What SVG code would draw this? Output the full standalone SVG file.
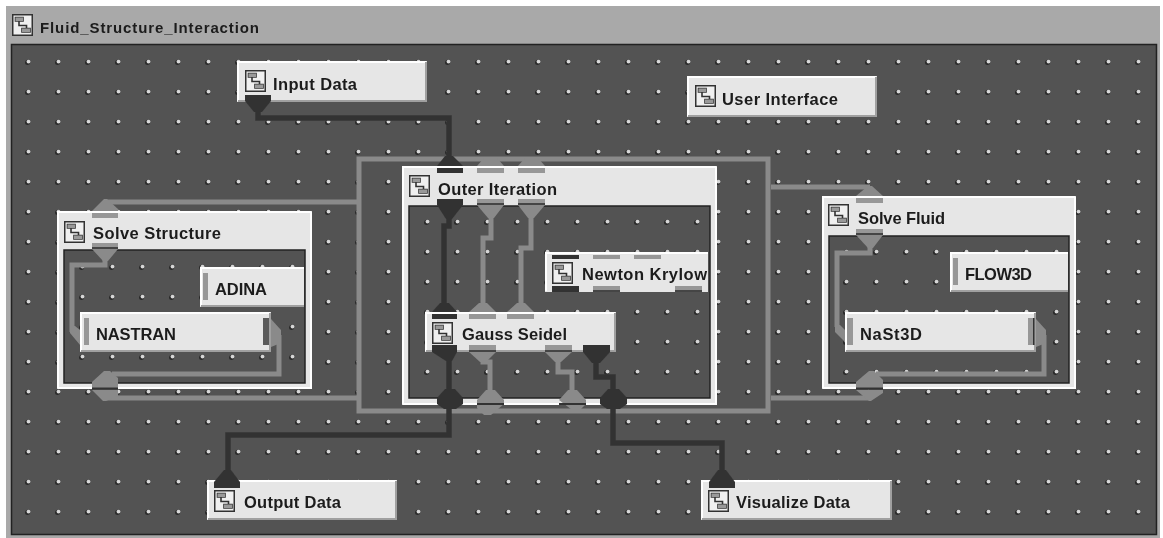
<svg xmlns="http://www.w3.org/2000/svg" width="1163" height="538" viewBox="0 0 1163 538">
<style>
text{font-family:"Liberation Sans",Arial,sans-serif;font-weight:700;font-size:16.500px;fill:#1c1c1c}
.title{font-size:15px}
.panel{stroke:#222;stroke-width:1.5}
.face{fill:#e6e6e6}
.hi{fill:none;stroke:#fff;stroke-width:2}
.lo{fill:none;stroke:#a0a0a0;stroke-width:2}
.g{fill:none;stroke:#8a8a8a;stroke-width:5}
.d{fill:none;stroke:#333;stroke-width:5.500}
.gf{fill:#8a8a8a}
.df{fill:#333}
.gb{fill:#979797}
.line{fill:#333}
</style>
<defs>
<filter id="soft" x="0" y="0" width="100%" height="100%"><feGaussianBlur stdDeviation="0.5"/></filter>
<symbol id="icon" viewBox="0 0 21 22" width="21" height="22">
<rect x="0.75" y="0.75" width="19.5" height="20.5" fill="#f0f0f0" stroke="#333" stroke-width="1.5"/>
<path d="M3.500 3.500H11V7H3.500ZM7 7V11.500H14.500V14.500M10 14.500H18V18H10Z" fill="#999" fill-opacity="0" stroke="#333" stroke-width="1.6"/>
<rect x="10" y="14.500" width="8" height="3.500" fill="#999"/>
<rect x="3.500" y="3.500" width="7.500" height="3.500" fill="#999"/>
</symbol>
<g id="dot"><circle cx="-0.5" cy="0.5" r="2.500" fill="#2a2a2a"/><circle cx="0.5" cy="-0.4" r="1.900" fill="#d6d6d6"/></g>
<pattern id="dMain" patternUnits="userSpaceOnUse" x="13" y="47" width="30" height="30"><use href="#dot" x="15" y="15"/></pattern>
<pattern id="dOuter" patternUnits="userSpaceOnUse" x="412" y="207" width="30" height="30"><use href="#dot" x="15" y="15"/></pattern>
<pattern id="dStruct" patternUnits="userSpaceOnUse" x="67" y="252" width="30" height="30"><use href="#dot" x="15" y="15"/></pattern>
<pattern id="dFluid" patternUnits="userSpaceOnUse" x="831" y="237" width="30" height="30"><use href="#dot" x="15" y="15"/></pattern>
</defs>
<g filter="url(#soft)">
<rect width="1163" height="538" fill="#fff"/>
<rect x="6" y="6" width="1154" height="532" fill="#a9a9a9"/>
<g id="title">
<use href="#icon" x="12" y="14"/>
<text class="title" x="40" y="33" textLength="219" lengthAdjust="spacing">Fluid_Structure_Interaction</text>
</g>
<rect x="11.500" y="44.500" width="1145" height="490" fill="#525252" class="panel"/>
<rect x="12" y="45" width="1144" height="489" fill="url(#dMain)"/>

<g id="input-data">
<rect x="237" y="61" width="190" height="41" class="face"/>
<path d="M238 101V62H426" class="hi"/><path d="M238 101H426V62" class="lo"/>
<use href="#icon" x="245" y="70"/>
<text x="273" y="90" textLength="84" lengthAdjust="spacing">Input Data</text>
</g>
<g id="user-interface">
<rect x="687" y="76" width="190" height="41" class="face"/>
<path d="M688 116V77H876" class="hi"/><path d="M688 116H876V77" class="lo"/>
<use href="#icon" x="695" y="85"/>
<text x="722" y="105" textLength="116" lengthAdjust="spacing">User Interface</text>
</g>
<g id="outer-iteration">
<rect x="402" y="166" width="315" height="239" class="face"/>
<path d="M403 404V167H716" class="hi"/><path d="M403 404H716V167" class="hi"/>
<rect x="409" y="206" width="301" height="192" fill="#525252" class="panel"/>
<rect x="410" y="207" width="299" height="190" fill="url(#dOuter)"/>
<use href="#icon" x="409" y="175"/>
<text x="438" y="195" textLength="119" lengthAdjust="spacing">Outer Iteration</text>
</g>
<g id="newton-krylow">
<rect x="545" y="252" width="163" height="40" class="face"/>
<path d="M546 291V253H708" class="hi"/>
<use href="#icon" x="552" y="262"/>
<text x="582" y="280" textLength="125" lengthAdjust="spacing">Newton Krylow</text>
</g>
<g id="gauss-seidel">
<rect x="425" y="312" width="191" height="40" class="face"/>
<path d="M426 351V313H615" class="hi"/><path d="M426 351H615V313" class="lo"/>
<use href="#icon" x="432" y="322"/>
<text x="462" y="340" textLength="105" lengthAdjust="spacing">Gauss Seidel</text>
</g>
<g id="solve-structure">
<rect x="57" y="211" width="255" height="178" class="face"/>
<path d="M58 388V212H311" class="hi"/><path d="M58 388H311V212" class="hi"/>
<rect x="64" y="250" width="241" height="133" fill="#525252" class="panel"/>
<rect x="65" y="251" width="239" height="131" fill="url(#dStruct)"/>
<use href="#icon" x="64" y="221"/>
<text x="93" y="239" textLength="128" lengthAdjust="spacing">Solve Structure</text>
</g>
<g id="adina">
<rect x="200" y="267" width="104" height="40" class="face"/>
<path d="M201 306V268H304" class="hi"/><path d="M201 306H304" class="lo"/>
<rect x="203" y="273" width="5" height="27" class="gb"/>
<text x="215" y="295" textLength="52" lengthAdjust="spacing">ADINA</text>
</g>
<g id="nastran">
<rect x="80" y="312" width="191" height="40" class="face"/>
<path d="M81 351V313H270" class="hi"/><path d="M81 351H270V313" class="lo"/>
<text x="96" y="340" textLength="80" lengthAdjust="spacing">NASTRAN</text>
</g>
<g id="solve-fluid">
<rect x="822" y="196" width="254" height="193" class="face"/>
<path d="M823 388V197H1075" class="hi"/><path d="M823 388H1075V197" class="hi"/>
<rect x="829" y="236" width="240" height="147" fill="#525252" class="panel"/>
<rect x="830" y="237" width="238" height="145" fill="url(#dFluid)"/>
<use href="#icon" x="828" y="204"/>
<text x="858" y="224" textLength="87" lengthAdjust="spacing">Solve Fluid</text>
</g>
<g id="flow3d">
<rect x="950" y="252" width="118" height="40" class="face"/>
<path d="M951 291V253H1068" class="hi"/><path d="M951 291H1068" class="lo"/>
<rect x="953" y="258" width="5" height="27" class="gb"/>
<text x="965" y="280" textLength="67" lengthAdjust="spacing">FLOW3D</text>
</g>
<g id="nast3d">
<rect x="845" y="312" width="191" height="40" class="face"/>
<path d="M846 351V313H1035" class="hi"/><path d="M846 351H1035V313" class="lo"/>
<text x="860" y="340" textLength="62" lengthAdjust="spacing">NaSt3D</text>
</g>
<g id="output-data">
<rect x="207" y="480" width="190" height="40" class="face"/>
<path d="M208 519V481H396" class="hi"/><path d="M208 519H396V481" class="lo"/>
<use href="#icon" x="214" y="490"/>
<text x="244" y="508" textLength="97" lengthAdjust="spacing">Output Data</text>
</g>
<g id="visualize-data">
<rect x="701" y="480" width="191" height="40" class="face"/>
<path d="M702 519V481H891" class="hi"/><path d="M702 519H891V481" class="lo"/>
<use href="#icon" x="708" y="490"/>
<text x="736" y="508" textLength="114" lengthAdjust="spacing">Visualize Data</text>
</g>

<g id="connectors">
<path class="g" d="M359 159H768V411H359Z"/>
<path class="g" d="M105 202H357M105 398H357M771 187H870M771 398H870"/>
<path class="d" d="M258 102V118H449V160"/>
<path class="d" d="M449 405V435H228V472"/>
<path class="d" d="M613 405V443H722V472"/>
<path class="d" d="M449 206V226H444V308"/>
<path class="g" d="M491 206V238H483V308"/>
<path class="g" d="M531 206V248H521V308"/>
<path class="d" d="M449 352V392"/>
<path class="g" d="M483 352V362H490V392"/>
<path class="g" d="M558 352V372H572V392"/>
<path class="d" d="M596 352V377H613V392"/>
<path class="g" d="M105 250V265H72V332"/>
<path class="g" d="M279 335V374H112"/>
<path class="g" d="M870 236V253H837V327"/>
<path class="g" d="M1044 335V374H876"/>

<path class="df" d="M245 101H271L262 112H254Z"/>
<path class="df" d="M437 166H463L453 156H445Z"/>
<path class="gf" d="M477 166H504L497 158H484Z"/>
<path class="gf" d="M518 166H545L538 158H525Z"/>
<path class="df" d="M437 205H463L452 219H446Z"/>
<path class="gf" d="M477 205H504L494 218H488Z"/>
<path class="gf" d="M518 205H545L534 218H528Z"/>
<path class="df" d="M432 312H457L449 303H440Z"/>
<path class="gf" d="M469 312H496L487 303H479Z"/>
<path class="gf" d="M507 312H534L525 303H517Z"/>
<path class="df" d="M432 352H457L452 361H446Z"/>
<path class="gf" d="M469 352H496L486 362H480Z"/>
<path class="gf" d="M545 352H572L561 362H555Z"/>
<path class="df" d="M583 352H610L600 363H592Z"/>
<path class="df" d="M437 398L445 389H455L463 398V404L456 409H444L437 404Z"/>
<path class="df" d="M600 398L608 389H619L627 398V404L620 409H607L600 404Z"/>
<path class="gf" d="M477 400L486 390H495L504 400V404L491 415H484L477 408Z"/>
<path class="gf" d="M559 400L568 390H577L586 400V404L580 410H572Z"/>
<path class="line" d="M477 403H504V405H477ZM559 403H586V405H559Z"/>
<path class="df" d="M214 482H240L231 470H224Z"/>
<path class="df" d="M709 482H735L726 470H718Z"/>

<path class="gf" d="M92 211L104 199H107L118 209V211Z"/>
<path class="gf" d="M92 249H118L108 261H103Z"/>
<path class="gf" d="M80 345L70 333V326H75L80 330Z"/>
<path class="gf" d="M271 319L281 330V343L271 347Z"/>
<path class="gf" d="M92 388V382L104 371H110L118 378V388Z"/>
<path class="gf" d="M92 390H118V396L106 401H103Z"/>
<path class="line" d="M92 387.500H118V389.500H92Z"/>

<path class="gf" d="M856 196L868 186H872L883 196Z"/>
<path class="gf" d="M856 235H883L873 248H868Z"/>
<path class="gf" d="M845 342L835 332V325H840L845 330Z"/>
<path class="gf" d="M1036 319L1046 330V343L1036 347Z"/>
<path class="gf" d="M856 388V382L869 371H874L883 380V388Z"/>
<path class="gf" d="M856 390H883V393L871 401H869Z"/>
<path class="line" d="M856 387.500H883V389.500H856Z"/>

<g class="df">
<rect x="245" y="95" width="26" height="6"/><rect x="437" y="168" width="26" height="5"/><rect x="437" y="199" width="26" height="6"/>
<rect x="552" y="255" width="27" height="4"/><rect x="552" y="286" width="27" height="6"/>
<rect x="432" y="314" width="25" height="5"/><rect x="432" y="345" width="25" height="7"/><rect x="583" y="345" width="27" height="7"/>
<rect x="214" y="482" width="26" height="6"/><rect x="709" y="482" width="26" height="6"/>
</g>
<g class="gb">
<rect x="477" y="168" width="27" height="5"/><rect x="518" y="168" width="27" height="5"/>
<rect x="477" y="199" width="27" height="6"/><rect x="518" y="199" width="27" height="6"/>
<rect x="593" y="255" width="27" height="4"/><rect x="634" y="255" width="27" height="4"/>
<rect x="593" y="286" width="27" height="6"/><rect x="675" y="286" width="27" height="6"/>
<rect x="469" y="314" width="27" height="5"/><rect x="507" y="314" width="27" height="5"/>
<rect x="469" y="345" width="27" height="7"/><rect x="545" y="345" width="27" height="7"/>
<rect x="92" y="213" width="26" height="5"/><rect x="92" y="243" width="26" height="6"/>
<rect x="856" y="198" width="27" height="5"/><rect x="856" y="229" width="27" height="6"/>
<rect x="84" y="318" width="5" height="27"/><rect x="847" y="318" width="6" height="27"/>
<rect x="1028" y="318" width="6" height="27"/>
</g>
<rect x="263" y="318" width="6" height="27" fill="#5a5a5a"/>
<rect x="1033" y="318" width="1.500" height="27" fill="#333"/>
<path d="M477 204H504M518 204H545M593 291H620M675 291H702M469 351H496M545 351H572M92 248H118M856 234H883" stroke="#444" stroke-width="2" fill="none"/>
</g>
</g>
</svg>
